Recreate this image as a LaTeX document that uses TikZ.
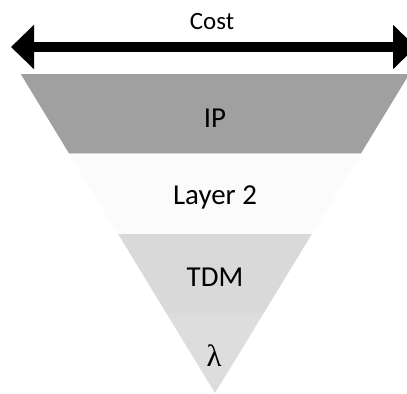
\documentclass[tikz,border=0pt]{standalone}
\usepackage{fontspec}
\setmainfont{Carlito}
\newfontfamily\greekfont{Liberation Serif}
\usetikzlibrary{arrows.meta}
\definecolor{ipgray}{RGB}{160,160,160}
\definecolor{ltwogray}{RGB}{251,251,251}
\definecolor{tdmgray}{RGB}{217,217,217}
\definecolor{lamgray}{RGB}{221,221,221}
\tikzset{
  band/.style={draw=none},
  bandlabel/.style={font=\fontsize{29}{33}\selectfont, text=black, inner sep=0pt},
  costlabel/.style={font=\fontsize{25}{29}\selectfont, text=black, inner sep=0pt},
  costarrow/.style={line width=9.5bp,
    {Triangle[length=23bp,width=43bp]}-{Triangle[length=23bp,width=43bp]}}
}
\begin{document}
\begin{tikzpicture}[x=1bp,y=-1bp]
  \clip (0,0) rectangle (407,394);
  \fill[white] (0,0) rectangle (407,394);

  % inverted pyramid, four bands from top to apex
  \fill[band, ipgray]   (20.7,74)   -- (409.3,74)  -- (360.9,153.5) -- (69.1,153.5) -- cycle;
  \fill[band, ltwogray] (69.1,153.5) -- (360.9,153.5) -- (311.9,234) -- (118.1,234) -- cycle;
  \fill[band, tdmgray]  (118.1,234) -- (311.9,234) -- (263.8,313) -- (166.2,313) -- cycle;
  \fill[band, lamgray]  (166.2,313) -- (263.8,313) -- (215,393) -- cycle;

  % band labels
  \node[bandlabel] (ip)  at (215,118) {IP};
  \node[bandlabel] (l2)  at (215,197) {Layer 2};
  \node[bandlabel] (tdm) at (215,277) {TDM};
  \node[bandlabel, font=\greekfont\fontsize{31}{33}\selectfont] (lam) at (214,356) {λ};

  % cost axis
  \node[costlabel] (cost) at (212,22) {Cost};
  \coordinate (costL) at (11,47);
  \coordinate (costR) at (416,47);
  \draw[costarrow] (costL) -- (costR);
\end{tikzpicture}
\end{document}
